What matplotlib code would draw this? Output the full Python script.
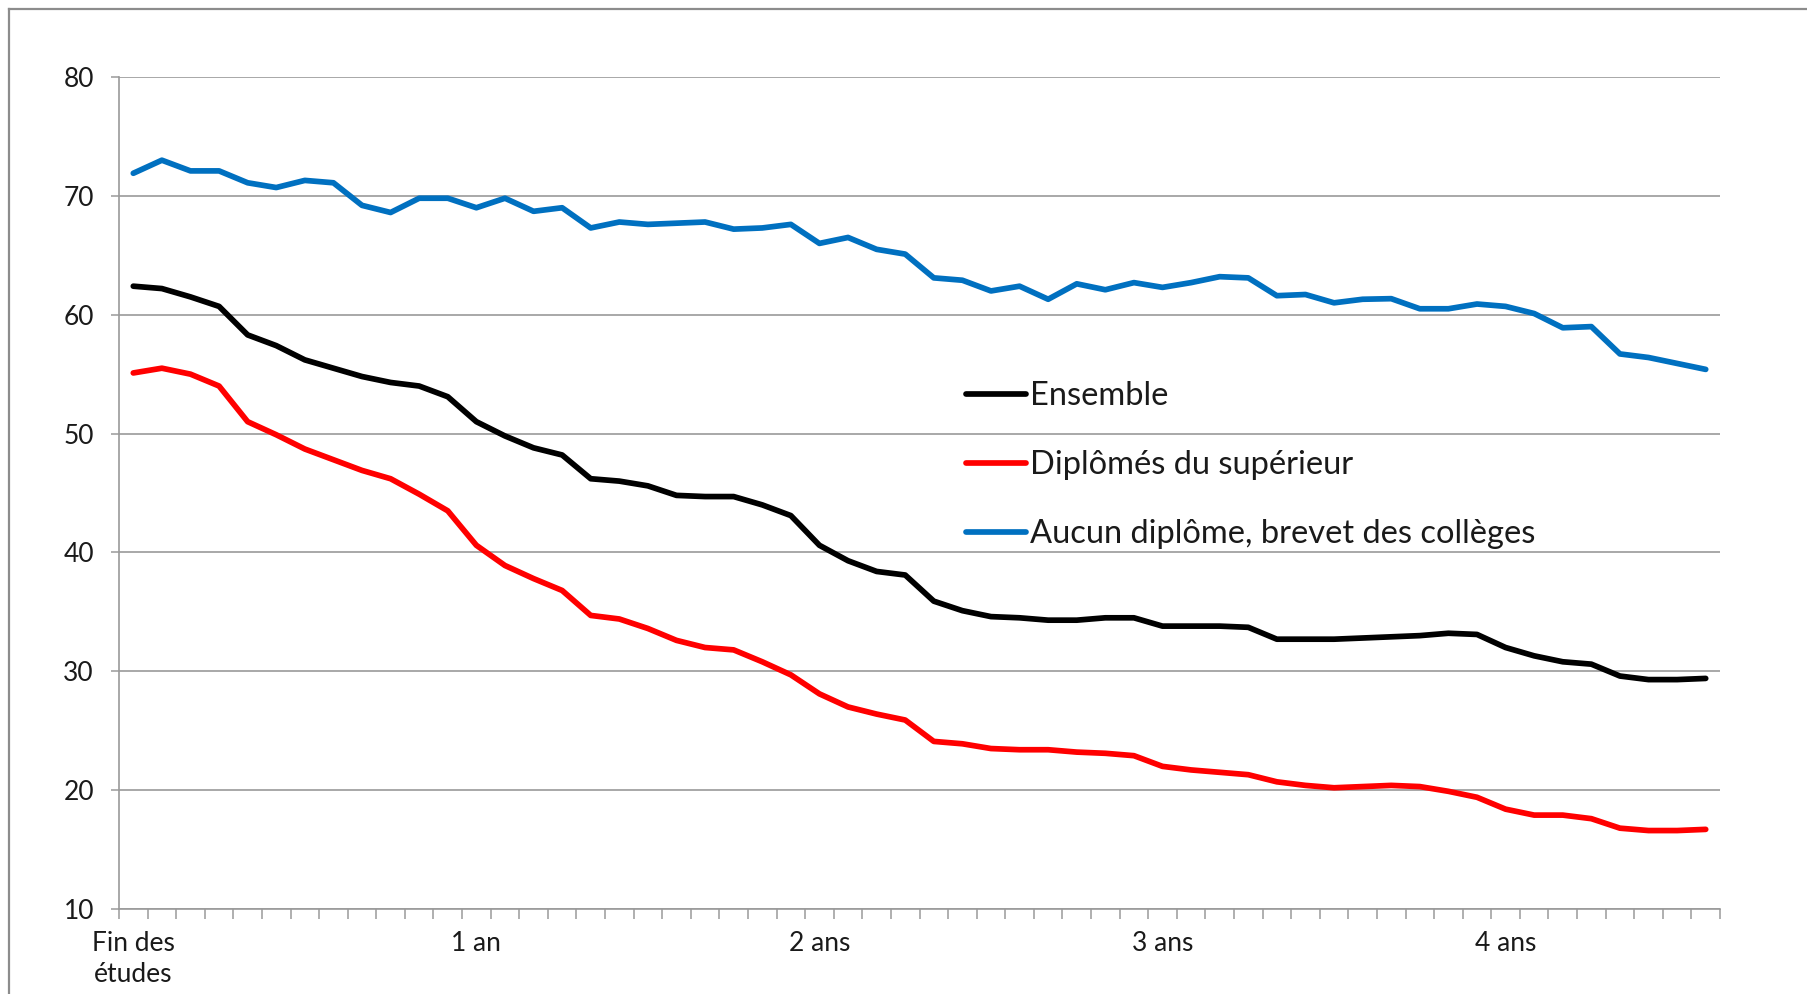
import matplotlib
matplotlib.use("Agg")
import matplotlib.pyplot as plt
from matplotlib.lines import Line2D
import numpy as np

plt.rcParams['font.family'] = ['Lato', 'DejaVu Sans']

# 56 monthly points: months after end of studies (0..55)
months = list(range(56))
tick_months = [0, 12, 24, 36, 48]
tick_labels = ["Fin des\nétudes", "1 an", "2 ans", "3 ans", "4 ans"]

labels = ["Ensemble", "Diplômés du supérieur", "Aucun diplôme, brevet des collèges"]

ensemble = [62.4, 62.2, 61.5, 60.7, 58.3, 57.4, 56.2, 55.5, 54.8, 54.3,
            54.0, 53.1, 51.0, 49.8, 48.8, 48.2, 46.2, 46.0, 45.6, 44.8,
            44.7, 44.7, 44.0, 43.1, 40.6, 39.3, 38.4, 38.1, 35.9, 35.1,
            34.6, 34.5, 34.3, 34.3, 34.5, 34.5, 33.8, 33.8, 33.8, 33.7,
            32.7, 32.7, 32.7, 32.8, 32.9, 33.0, 33.2, 33.1, 32.0, 31.3,
            30.8, 30.6, 29.6, 29.3, 29.3, 29.4]

superieur = [55.1, 55.5, 55.0, 54.0, 51.0, 49.9, 48.7, 47.8, 46.9, 46.2,
             44.9, 43.5, 40.6, 38.9, 37.8, 36.8, 34.7, 34.4, 33.6, 32.6,
             32.0, 31.8, 30.8, 29.7, 28.1, 27.0, 26.4, 25.9, 24.1, 23.9,
             23.5, 23.4, 23.4, 23.2, 23.1, 22.9, 22.0, 21.7, 21.5, 21.3,
             20.7, 20.4, 20.2, 20.3, 20.4, 20.3, 19.9, 19.4, 18.4, 17.9,
             17.9, 17.6, 16.8, 16.6, 16.6, 16.7]

aucun = [71.9, 73.0, 72.1, 72.1, 71.1, 70.7, 71.3, 71.1, 69.2, 68.6,
         69.8, 69.8, 69.0, 69.8, 68.7, 69.0, 67.3, 67.8, 67.6, 67.7,
         67.8, 67.2, 67.3, 67.6, 66.0, 66.5, 65.5, 65.1, 63.1, 62.9,
         62.0, 62.4, 61.3, 62.6, 62.1, 62.7, 62.3, 62.7, 63.2, 63.1,
         61.6, 61.7, 61.0, 61.3, 61.35, 60.5, 60.5, 60.9, 60.7, 60.1,
         58.9, 59.0, 56.7, 56.4, 55.9, 55.4]

colors = ["#000000", "#FF0000", "#0070C0"]

W, H = 1807, 994
fig = plt.figure(figsize=(W / 100, H / 100), dpi=100)
fig.patch.set_facecolor("white")

# outer chart border (cropped on right and bottom)
bx, by = 9 / W, 1 - 9 / H
fig.add_artist(Line2D([bx, 1.01], [by, by], transform=fig.transFigure,
                      color="#8c8c8c", lw=1.6))
fig.add_artist(Line2D([bx, bx], [by, -0.01], transform=fig.transFigure,
                      color="#8c8c8c", lw=1.6))

left, right = 119 / W, 1720 / W
top, bottom = 1 - 77 / H, 1 - 909 / H
ax = fig.add_axes([left, bottom, right - left, top - bottom])

grid_c = "#9a9a9a"
for series, c, lab in zip([ensemble, superieur, aucun], colors, labels):
    ax.plot(months, series, color=c, lw=4.1, label=lab,
            solid_joinstyle="round", solid_capstyle="round", zorder=3)

ax.set_xlim(-0.5, 55.5)
ax.set_ylim(10, 80)
ax.set_yticks(np.arange(10, 81, 10))
ax.yaxis.grid(True, color=grid_c, lw=1.2)
ax.set_axisbelow(True)

# category boundary ticks (major, unlabeled) and labels (minor)
ax.set_xticks(np.arange(-0.5, 56, 1.0))
ax.set_xticklabels([])
ax.set_xticks(tick_months, minor=True)
ax.set_xticklabels(tick_labels, minor=True)
ax.tick_params(axis="x", which="major", direction="out", length=7,
               width=1.1, color=grid_c)
ax.tick_params(axis="x", which="minor", length=0, pad=16,
               labelsize=19, labelcolor="#1a1a1a")
ax.tick_params(axis="y", direction="out", length=6, width=1.1,
               color=grid_c, pad=12, labelsize=19, labelcolor="#1a1a1a")
for t in ax.get_xticklabels(minor=True):
    t.set_linespacing(1.3)

for s in ["top", "right"]:
    ax.spines[s].set_visible(False)
for s in ["left", "bottom"]:
    ax.spines[s].set_color(grid_c)
    ax.spines[s].set_linewidth(1.2)

leg = ax.legend(loc="center left", bbox_to_anchor=(0.529, 0.5335),
                frameon=False, fontsize=23.5, handlelength=1.85,
                handletextpad=0.1, labelspacing=1.2, borderpad=0,
                borderaxespad=0)
for line in leg.get_lines():
    line.set_linewidth(4.1)
for t in leg.get_texts():
    t.set_color("#1a1a1a")

fig.savefig("out.png", dpi=100, facecolor="white")
